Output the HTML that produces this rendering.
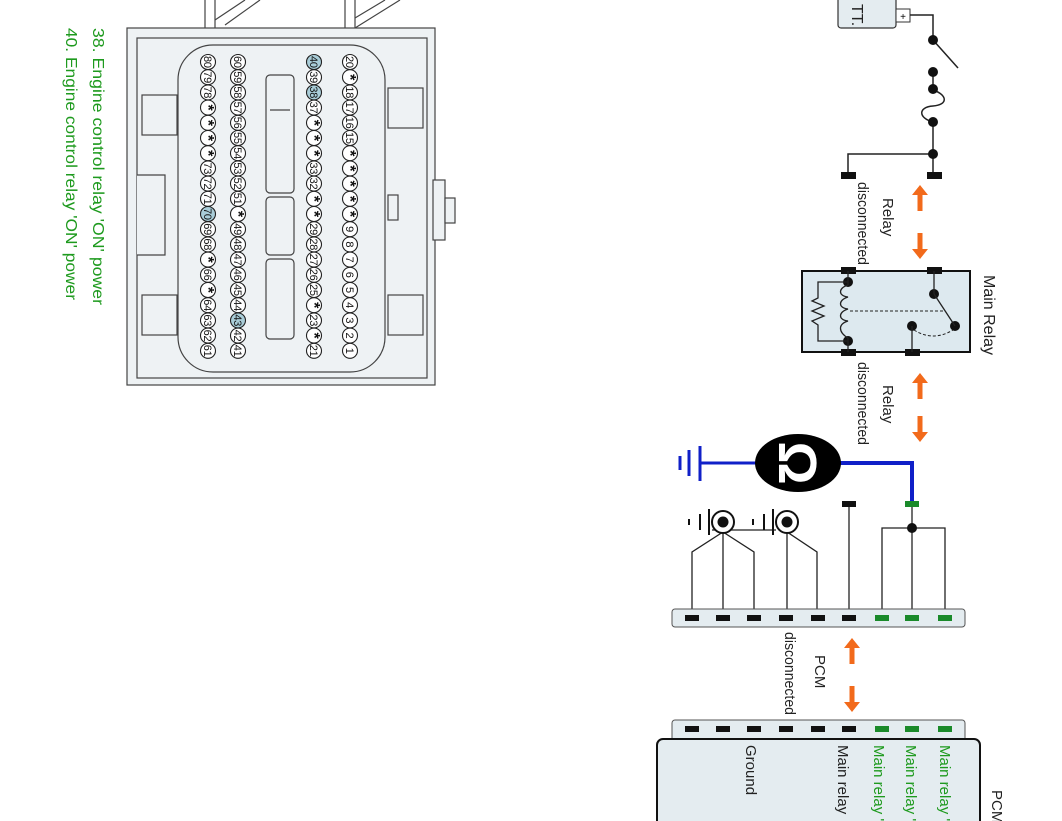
<!DOCTYPE html>
<html><head><meta charset="utf-8"><style>
html,body{margin:0;padding:0;background:#fff;}
svg{display:block;}
text{font-family:"Liberation Sans",sans-serif;}
</style></head><body>
<svg width="1062" height="821" viewBox="0 0 1062 821" xmlns="http://www.w3.org/2000/svg">
<defs>
<g id="arU"><rect x="-2.5" y="8" width="5" height="18" fill="#f26a1b"/><polygon points="-8,10 8,10 0,0" fill="#f26a1b"/></g>
</defs>
<text transform="translate(93,28) rotate(90)" font-size="15.5" fill="#1e9a1e" textLength="277" lengthAdjust="spacingAndGlyphs">38. Engine control relay 'ON' power</text>
<text transform="translate(66,28) rotate(90)" font-size="15.5" fill="#1e9a1e" textLength="272" lengthAdjust="spacingAndGlyphs">40. Engine control relay 'ON' power</text>

<g stroke="#444" stroke-width="1.2" fill="#eef2f4">
<path d="M205 0 L205 30 M215 0 L215 30 M345 0 L345 30 M355 0 L355 30" fill="none"/>
<path d="M215 20 L245 0 M225 25 L260 0 M355 18 L385 0 M355 28 L400 0" fill="none"/>
<rect x="127" y="28" width="308" height="357"/>
<rect x="137" y="38" width="290" height="340"/>
<rect x="142" y="95" width="35" height="40"/>
<rect x="142" y="295" width="35" height="40"/>
<rect x="388" y="88" width="35" height="40"/>
<rect x="388" y="295" width="35" height="40"/>
<rect x="433" y="180" width="12" height="60"/>
<rect x="445" y="198" width="10" height="25"/>
<rect x="388" y="195" width="10" height="25"/>
<path d="M137 175 L165 175 L165 255 L137 255" fill="#eef2f4"/>
<rect x="178" y="45" width="207" height="327" rx="35"/>
<rect x="266" y="75" width="28" height="118" rx="4"/>
<rect x="266" y="197" width="28" height="58" rx="4"/>
<rect x="266" y="259" width="28" height="80" rx="4"/>
<line x1="270" y1="110" x2="290" y2="110"/>
</g>
<g id="pins"></g>

<rect x="838" y="-6" width="58" height="34" rx="3" fill="#e4ecf0" stroke="#333" stroke-width="1.2"/>
<text transform="translate(852,4) rotate(90)" font-size="16" fill="#222">TT.</text>
<rect x="896" y="9" width="14" height="13" fill="#fff" stroke="#333"/>
<text x="903" y="20" font-size="10" text-anchor="middle">+</text>
<g stroke="#222" stroke-width="1.5" fill="none">
<path d="M910 15 L933 15 L933 40"/>
<line x1="933" y1="40" x2="958" y2="68"/>
<line x1="933" y1="72" x2="933" y2="88"/>
<path d="M933 90 C948 95 948 105 933 106 C918 107 918 118 933 122"/>
<line x1="933" y1="122" x2="933" y2="175"/>
<path d="M933 154 L848 154 L848 175"/>
</g>
<g fill="#111">
<circle cx="933" cy="40" r="5"/><circle cx="933" cy="72" r="5"/><circle cx="933" cy="89" r="5"/><circle cx="933" cy="122" r="5"/><circle cx="933" cy="154" r="5"/>
<rect x="841" y="172" width="15" height="7"/><rect x="927" y="172" width="15" height="7"/>
</g>
<use href="#arU" x="920" y="185"/>
<use href="#arU" transform="translate(920,259) scale(1,-1)"/>
<text transform="translate(883,198) rotate(90)" font-size="15" fill="#222">Relay</text>
<text transform="translate(858,182) rotate(90)" font-size="15" fill="#222" textLength="83" lengthAdjust="spacingAndGlyphs">disconnected</text>

<rect x="802" y="271" width="168" height="81" fill="#dde9ef" stroke="#111" stroke-width="2"/>
<g fill="#111">
<rect x="841" y="267" width="15" height="7"/><rect x="927" y="267" width="15" height="7"/>
<rect x="841" y="349" width="15" height="7"/><rect x="905" y="349" width="15" height="7"/>
<circle cx="848" cy="282" r="5"/><circle cx="848" cy="341" r="5"/>
<circle cx="934" cy="294" r="5"/><circle cx="955" cy="326" r="5"/><circle cx="912" cy="326" r="5"/>
</g>
<g stroke="#222" stroke-width="1.3" fill="none">
<line x1="848" y1="271" x2="848" y2="285"/><line x1="848" y1="338" x2="848" y2="352"/>
<path d="M848 285 C838 288 838 296 848 297 C838 300 838 308 848 309 C838 312 838 320 848 321 C838 324 838 332 848 338"/>
<path d="M848 282 L818 282 L818 298 L812 301 L824 306 L812 311 L824 316 L812 321 L818 325 L818 341 L848 341"/>
<line x1="934" y1="271" x2="934" y2="294"/>
<line x1="934" y1="294" x2="955" y2="326"/>
<line x1="912" y1="326" x2="912" y2="352"/>
<line x1="850" y1="311" x2="944" y2="311" stroke-dasharray="3,2" stroke-width="1"/>
<path d="M914 330 Q933 342 953 330" stroke-dasharray="3,2" stroke-width="1"/>
</g>
<text transform="translate(984,275) rotate(90)" font-size="16" fill="#222">Main Relay</text>

<use href="#arU" x="920" y="373"/>
<use href="#arU" transform="translate(920,442) scale(1,-1)"/>
<text transform="translate(883,385) rotate(90)" font-size="15" fill="#222">Relay</text>
<text transform="translate(858,362) rotate(90)" font-size="15" fill="#222" textLength="83" lengthAdjust="spacingAndGlyphs">disconnected</text>

<g stroke="#1020c8" fill="none">
<line x1="700" y1="463" x2="756" y2="463" stroke-width="3"/>
<line x1="700" y1="446" x2="700" y2="481" stroke-width="3"/>
<line x1="689" y1="450" x2="689" y2="476" stroke-width="3"/>
<line x1="680" y1="456" x2="680" y2="470" stroke-width="3"/>
<path d="M840 463 L912 463 L912 505" stroke-width="4"/>
</g>
<ellipse cx="798" cy="463" rx="43" ry="29" fill="#000"/>
<text transform="translate(779,463) rotate(90)" font-size="54" font-weight="bold" fill="#fff" text-anchor="middle">Ω</text>

<g stroke="#222" stroke-width="1.3" fill="none">
<line x1="912" y1="505" x2="912" y2="618"/>
<path d="M882 618 L882 528 L945 528 L945 618"/>
<line x1="849" y1="504" x2="849" y2="618"/>
<path d="M692 618 L692 552 L723 532 L754 552 L754 618 M723 532 L723 618"/>
<path d="M787 618 L787 532 L817 552 L817 618"/>
<line x1="712" y1="530" x2="776" y2="530"/>
</g>
<rect x="842" y="501" width="14" height="6" fill="#111"/>
<rect x="905" y="501" width="14" height="6" fill="#1a8a2a"/>
<circle cx="912" cy="528" r="5" fill="#111"/>
<g>
<circle cx="723" cy="522" r="11" fill="#fff" stroke="#111" stroke-width="2"/><circle cx="723" cy="522" r="5.5" fill="#111"/>
<circle cx="787" cy="522" r="11" fill="#fff" stroke="#111" stroke-width="2"/><circle cx="787" cy="522" r="5.5" fill="#111"/>
<g stroke="#111" stroke-width="2"><line x1="709" y1="509" x2="709" y2="535"/><line x1="700" y1="514" x2="700" y2="530"/><line x1="689" y1="519" x2="689" y2="525"/>
<line x1="773" y1="509" x2="773" y2="535"/><line x1="764" y1="514" x2="764" y2="530"/><line x1="753" y1="519" x2="753" y2="525"/></g>
</g>

<rect x="672" y="609" width="293" height="18" rx="3" fill="#e4ecf0" stroke="#555"/>
<g fill="#111">
<rect x="685" y="615" width="14" height="6"/><rect x="716" y="615" width="14" height="6"/><rect x="747" y="615" width="14" height="6"/><rect x="779" y="615" width="14" height="6"/><rect x="811" y="615" width="14" height="6"/><rect x="842" y="615" width="14" height="6"/>
</g>
<g fill="#1a8a2a"><rect x="875" y="615" width="14" height="6"/><rect x="905" y="615" width="14" height="6"/><rect x="938" y="615" width="14" height="6"/></g>

<use href="#arU" x="852" y="638"/>
<use href="#arU" transform="translate(852,712) scale(1,-1)"/>
<text transform="translate(815,655) rotate(90)" font-size="15" fill="#222">PCM</text>
<text transform="translate(785,632) rotate(90)" font-size="15" fill="#222" textLength="83" lengthAdjust="spacingAndGlyphs">disconnected</text>

<rect x="672" y="720" width="293" height="30" rx="3" fill="#e4ecf0" stroke="#555"/>
<rect x="657" y="739" width="323" height="100" rx="6" fill="#e4ecf0" stroke="#111" stroke-width="2"/>
<g fill="#111">
<rect x="685" y="726" width="14" height="6"/><rect x="716" y="726" width="14" height="6"/><rect x="747" y="726" width="14" height="6"/><rect x="779" y="726" width="14" height="6"/><rect x="811" y="726" width="14" height="6"/><rect x="842" y="726" width="14" height="6"/>
</g>
<g fill="#1a8a2a"><rect x="875" y="726" width="14" height="6"/><rect x="905" y="726" width="14" height="6"/><rect x="938" y="726" width="14" height="6"/></g>
<g font-size="15">
<text transform="translate(940,745) rotate(90)" fill="#1e9a1e">Main relay 'ON'</text>
<text transform="translate(906,745) rotate(90)" fill="#1e9a1e">Main relay 'ON'</text>
<text transform="translate(874,745) rotate(90)" fill="#1e9a1e">Main relay 'ON'</text>
<text transform="translate(838,745) rotate(90)" fill="#222">Main relay</text>
<text transform="translate(746,745) rotate(90)" fill="#222">Ground</text>
<text transform="translate(992,790) rotate(90)" fill="#222">PCM</text>
</g>
</svg>
<script>
(function(){
var cols=[
[350,["20","*","18","17","16","15","*","*","*","*","*","9","8","7","6","5","4","3","2","1"]],
[314,["40","39","38","37","*","*","*","33","32","*","*","29","28","27","26","25","*","23","*","21"]],
[238,["60","59","58","57","56","55","54","53","52","51","*","49","48","47","46","45","44","43","42","41"]],
[208,["80","79","78","*","*","*","*","73","72","71","70","69","68","*","66","*","64","63","62","61"]]];
var hl={"40":1,"38":1,"70":1,"43":1};
var g=document.getElementById("pins"),s="";
cols.forEach(function(c){c[1].forEach(function(v,i){var x=c[0],y=62+i*15.2;
s+='<circle cx="'+x+'" cy="'+y+'" r="7.5" fill="'+(hl[v]?"#a9cdd8":"#fff")+'" stroke="#222" stroke-width="1.1"/>';
s+='<text transform="translate('+(x-(v=="*"?5:4))+','+y+') rotate(90)" text-anchor="middle" font-size="'+(v=="*"?16:11)+'" font-weight="'+(v=="*"?"bold":"normal")+'" fill="#111" textLength="'+(v.length>1?12:0)+'">'+v+'</text>';});});
g.innerHTML=s.replace(/ textLength="0"/g,"");})();
</script>
</body></html>
